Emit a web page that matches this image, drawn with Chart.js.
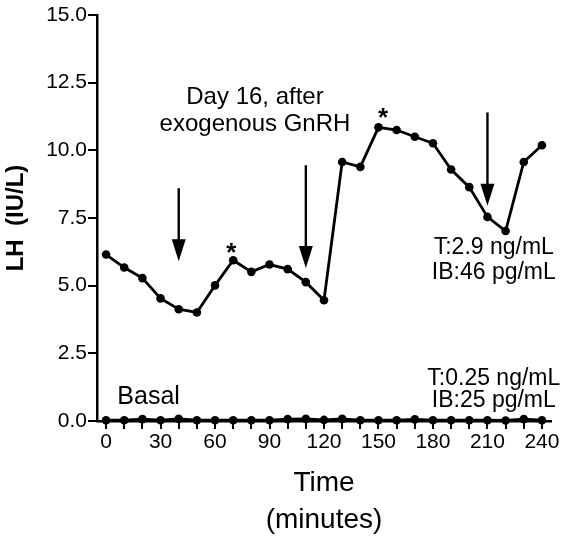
<!DOCTYPE html>
<html>
<head>
<meta charset="utf-8">
<script src="https://cdn.jsdelivr.net/npm/chart.js@4"></script>
<style>
  html, body { margin: 0; padding: 0; background: #fff; }
  #wrap { width: 566px; height: 540px; }
</style>
</head>
<body>
<div id="wrap"><canvas id="lh-chart" width="566" height="540"></canvas></div>
<script>
// data
const times = [0, 10, 20, 30, 40, 50, 60, 70, 80, 90, 100, 110, 120, 130, 140, 150, 160, 170, 180, 190, 200, 210, 220, 230, 240];
const day16LH = [6.15, 5.67, 5.28, 4.53, 4.13, 4.01, 5.01, 5.94, 5.51, 5.78, 5.61, 5.13, 4.46, 9.57, 9.39, 10.85, 10.75, 10.5, 10.26, 9.29, 8.64, 7.54, 7.02, 9.57, 10.19];
const basalLH = [0.03, 0.03, 0.07, 0.03, 0.08, 0.03, 0.03, 0.03, 0.03, 0.03, 0.07, 0.08, 0.04, 0.08, 0.03, 0.03, 0.03, 0.06, 0.03, 0.03, 0.03, 0.03, 0.02, 0.07, 0.03];
const xTicks = [0, 10, 20, 30, 40, 50, 60, 70, 80, 90, 100, 110, 120, 130, 140, 150, 160, 170, 180, 190, 200, 210, 220, 230, 240];
const yTicks = [0, 2.5, 5, 7.5, 10, 12.5, 15];

// GnRH arrows (time, top value, tip value)
const arrowTimes = [40, 110, 210];
const arrowTops = [8.6, 9.45, 11.4];
const arrowTips = [5.9, 5.65, 7.95];

// significant peaks
const starTimes = [69, 152.5];
const starValues = [6.47, 11.46];

const FONT = 'Arial, "Liberation Sans", Helvetica, sans-serif';

const annotate = {
    id: 'annotate',
    afterDatasetsDraw(chart) {
        const ctx = chart.ctx;
        const x = chart.scales.x;
        const y = chart.scales.y;
        ctx.save();
        ctx.fillStyle = '#000';
        ctx.strokeStyle = '#000';

        // arrows
        arrowTimes.forEach((t, i) => {
            const px = x.getPixelForValue(t);
            const top = y.getPixelForValue(arrowTops[i]);
            const tip = y.getPixelForValue(arrowTips[i]);
            const headLen = 22, headW = 7;
            ctx.lineWidth = 2.4;
            ctx.beginPath();
            ctx.moveTo(px, top);
            ctx.lineTo(px, tip - headLen + 2);
            ctx.stroke();
            ctx.beginPath();
            ctx.moveTo(px - headW, tip - headLen);
            ctx.lineTo(px + headW, tip - headLen);
            ctx.lineTo(px, tip);
            ctx.closePath();
            ctx.fill();
        });

        // asterisks
        ctx.font = 'bold 26px ' + FONT;
        ctx.textAlign = 'center';
        ctx.textBaseline = 'alphabetic';
        starTimes.forEach((t, i) => {
            ctx.fillText('*', x.getPixelForValue(t), y.getPixelForValue(starValues[i]) + 15);
        });

        // text labels
        ctx.textBaseline = 'middle';
        ctx.font = '24px ' + FONT;
        const cx = x.getPixelForValue(82);
        ctx.fillText('Day 16, after', cx, y.getPixelForValue(11.97));
        ctx.fillText('exogenous GnRH', cx, y.getPixelForValue(11.97) + 27);

        ctx.font = '23px ' + FONT;
        const rx = x.getPixelForValue(213.5);
        ctx.fillText('T:2.9 ng/mL', rx, y.getPixelForValue(6.4));
        ctx.fillText('IB:46 pg/mL', rx, y.getPixelForValue(6.4) + 25);
        ctx.fillText('T:0.25 ng/mL', rx, y.getPixelForValue(1.58));
        ctx.fillText('IB:25 pg/mL', rx, y.getPixelForValue(1.58) + 22);

        ctx.font = '25px ' + FONT;
        ctx.textAlign = 'left';
        ctx.fillText('Basal', x.getPixelForValue(6.2), y.getPixelForValue(0.87));
        ctx.restore();
    }
};

new Chart(document.getElementById('lh-chart'), {
    type: 'line',
    data: {
        datasets: [
            {
                label: 'Day 16',
                data: times.map((t, i) => ({ x: t, y: day16LH[i] })),
                borderColor: '#000',
                backgroundColor: '#000',
                borderWidth: 2.8,
                pointRadius: 4.3,
                pointBorderWidth: 0,
                tension: 0,
                clip: false
            },
            {
                label: 'Basal',
                data: times.map((t, i) => ({ x: t, y: basalLH[i] })),
                borderColor: '#000',
                backgroundColor: '#000',
                borderWidth: 2.8,
                pointRadius: 4.3,
                pointBorderWidth: 0,
                tension: 0,
                clip: false
            }
        ]
    },
    options: {
        responsive: false,
        animation: false,
        layout: { padding: { left: 0, right: 15, top: 15, bottom: 0 } },
        plugins: {
            legend: { display: false },
            tooltip: { enabled: false }
        },
        scales: {
            x: {
                type: 'linear',
                min: -5,
                max: 245,
                afterBuildTicks: scale => { scale.ticks = xTicks.map(v => ({ value: v })); },
                afterFit: scale => { scale.height = 119; },
                ticks: {
                    autoSkip: false,
                    maxRotation: 0,
                    color: '#000',
                    padding: 1,
                    font: { family: FONT, size: 21 },
                    callback: v => (v % 30 === 0 ? String(v) : '')
                },
                grid: { drawOnChartArea: false, drawTicks: true, tickLength: 8, color: '#000', lineWidth: 2 },
                border: { color: '#000', width: 2.5 },
                title: {
                    display: true,
                    text: ['Time', '(minutes)'],
                    color: '#000',
                    font: { family: FONT, size: 28, lineHeight: 1.3 },
                    padding: { top: 0, bottom: 2 }
                }
            },
            y: {
                min: 0,
                max: 15,
                afterBuildTicks: scale => { scale.ticks = yTicks.map(v => ({ value: v })); },
                afterFit: scale => { scale.width = 97; },
                ticks: {
                    color: '#000',
                    padding: 1,
                    font: { family: FONT, size: 21 },
                    callback: v => v.toFixed(1)
                },
                grid: { drawOnChartArea: false, drawTicks: true, tickLength: 9, color: '#000', lineWidth: 2 },
                border: { color: '#000', width: 2.5 },
                title: {
                    display: true,
                    text: 'LH  (IU/L)',
                    color: '#000',
                    font: { family: FONT, size: 24, weight: 'bold', lineHeight: 1.2 },
                    padding: { top: 2, bottom: 0 }
                }
            }
        }
    },
    plugins: [annotate]
});
</script>
</body>
</html>
